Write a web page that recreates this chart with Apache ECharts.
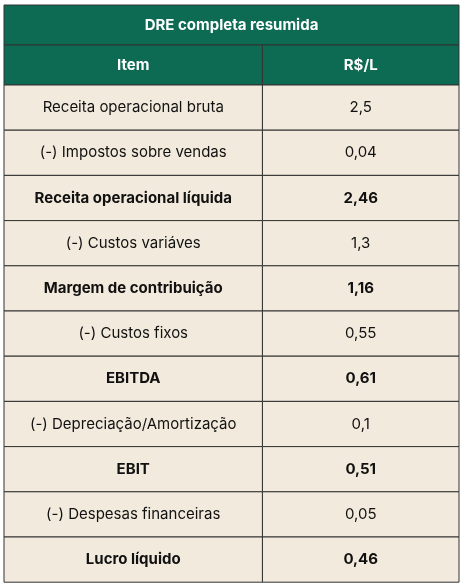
<!DOCTYPE html>
<html><head><meta charset="utf-8">
<script src="https://cdn.jsdelivr.net/npm/echarts@6/dist/echarts.min.js"></script>
<style>html,body{margin:0;padding:0;background:#fff}#c{width:464px;height:588px}</style>
</head><body><div id="c"></div>
<script>
const title = 'DRE completa resumida';
const headers = ['Item', 'R$/L'];
const items = ['Receita operacional bruta','(-) Impostos sobre vendas','Receita operacional líquida','(-) Custos variáves','Margem de contribuição','(-) Custos fixos','EBITDA','(-) Depreciação/Amortização','EBIT','(-) Despesas financeiras','Lucro líquido'];
const values = ['2,5','0,04','2,46','1,3','1,16','0,55','0,61','0,1','0,51','0,05','0,46'];
const bold = [false,false,true,false,true,false,true,false,true,false,true];

const GREEN = '#0c6b52', BEIGE = '#f2eadc', LINE = '#333';
const TH = 40, HH = 40, RH = 45.2;
const SPLIT = 0.568;
const cells = [];
cells.push({y0:0,y1:TH,x0:0,x1:1,text:title,fill:GREEN,color:'#fff',bold:true});
cells.push({y0:TH,y1:TH+HH,x0:0,x1:SPLIT,text:headers[0],fill:GREEN,color:'#fff',bold:true});
cells.push({y0:TH,y1:TH+HH,x0:SPLIT,x1:1,text:headers[1],fill:GREEN,color:'#fff',bold:true});
items.forEach((it,i)=>{
  const y0=TH+HH+i*RH, y1=y0+RH;
  cells.push({y0,y1,x0:0,x1:SPLIT,text:it,fill:BEIGE,color:'#111',bold:bold[i]});
  cells.push({y0,y1,x0:SPLIT,x1:1,text:values[i],fill:BEIGE,color:'#111',bold:bold[i]});
});
const total = TH+HH+items.length*RH;
const chart = echarts.init(document.getElementById('c'));
chart.setOption({
  animation:false,
  grid:{left:4,right:5,top:5,bottom:588-5-total},
  xAxis:{type:'value',min:0,max:1,show:false},
  yAxis:{type:'value',min:0,max:total,inverse:true,show:false},
  series:[{
    type:'custom',
    data:cells.map((c,i)=>[c.x0,c.y0,c.x1,c.y1,i]),
    renderItem:(params,api)=>{
      const c=cells[api.value(4)];
      const p0=api.coord([api.value(0),api.value(1)]);
      const p1=api.coord([api.value(2),api.value(3)]);
      return {type:'group',children:[
        {type:'rect',shape:{x:p0[0],y:p0[1],width:p1[0]-p0[0],height:p1[1]-p0[1]},
         style:{fill:c.fill,stroke:LINE,lineWidth:1}},
        {type:'text',x:(p0[0]+p1[0])/2,y:(p0[1]+p1[1])/2,
         style:{text:c.text,fill:c.color,align:'center',verticalAlign:'middle',
           font:(c.bold?'bold ':'')+'15px Inter, "Noto Sans", sans-serif'}}
      ]};
    }
  }]
});
</script></body></html>
